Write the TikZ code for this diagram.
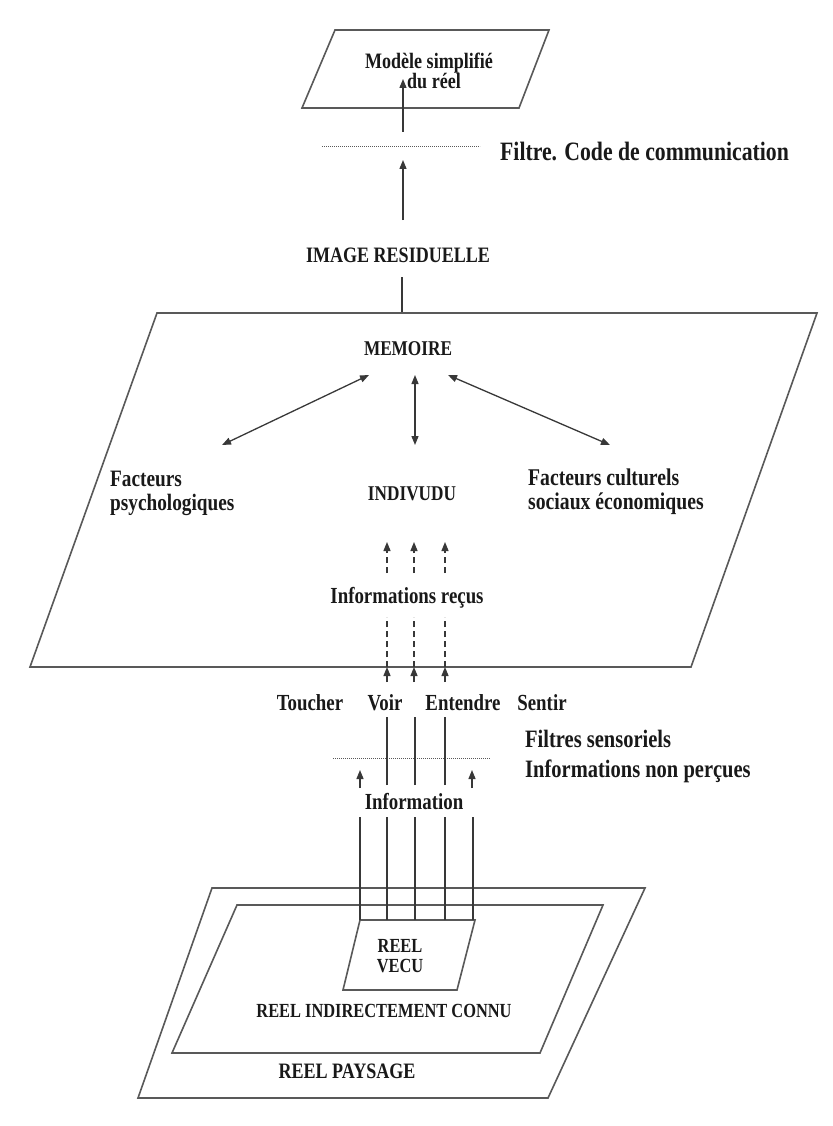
\documentclass[tikz,border=0pt]{standalone}
\usepackage{fontspec}
\setmainfont{Liberation Serif}[FakeStretch=0.82]
\usetikzlibrary{arrows.meta}
\begin{document}
\begin{tikzpicture}[x=1pt,y=-1pt,
  ln/.style={draw=black!78, line width=1.3pt},
  frame/.style={draw=black!65, line width=1.6pt, line join=miter},
  arr/.style={ln, -{Triangle[length=9pt,width=7pt]}},
  darr/.style={ln, {Triangle[length=9pt,width=7pt]}-{Triangle[length=9pt,width=7pt]}},
  dasharr/.style={arr, dash pattern=on 6pt off 4pt},
  dashln/.style={ln, dash pattern=on 6pt off 4pt},
  filt/.style={draw=black!65, line width=1pt, dash pattern=on 1.2pt off 0.8pt},
  lbl/.style={inner sep=0pt, text=black!90, align=center, font=\fontsize{23}{24}\selectfont\bfseries},
  rlbl/.style={lbl, anchor=west, align=left},
]
\fill[white] (0,0) rectangle (832,1126);
\useasboundingbox (0,0) rectangle (832,1126);

% ---------- top: simplified model ----------
\coordinate (m1) at (302,108); \coordinate (m2) at (519,108);
\coordinate (m3) at (549,30);  \coordinate (m4) at (335,30);
\draw[frame] (m1) -- (m2) -- (m3) -- (m4) -- cycle;
\node[lbl, font=\fontsize{22}{20}\selectfont\bfseries] (modele) at (429,71) {Modèle simplifié\\\hspace*{10pt}du réel};
\coordinate (a1s) at (403,132); \coordinate (a1e) at (403,79);
\draw[arr] (a1s) -- (a1e);

% filter 1
\coordinate (f1a) at (322,147); \coordinate (f1b) at (480,147);
\draw[filt] (f1a) -- (f1b);
\node[rlbl, font=\fontsize{26.5}{28}\selectfont\bfseries] (filtre) at (500,151) {Filtre. Code de communication};

\coordinate (a2s) at (403,220); \coordinate (a2e) at (403,160);
\draw[arr] (a2s) -- (a2e);
\node[lbl, font=\fontsize{22}{24}\selectfont\bfseries] (image) at (398,255) {IMAGE RESIDUELLE};
\coordinate (l1s) at (402,277); \coordinate (l1e) at (402,313);
\draw[ln] (l1s) -- (l1e);

% ---------- memory box ----------
\coordinate (b1) at (30,667); \coordinate (b2) at (691,667);
\coordinate (b3) at (817,313); \coordinate (b4) at (157,313);
\draw[frame] (b1) -- (b2) -- (b3) -- (b4) -- cycle;
\node[lbl, font=\fontsize{21}{23}\selectfont\bfseries] (memoire) at (408,349) {MEMOIRE};
\coordinate (dl1) at (369,375); \coordinate (dl2) at (222,445);
\coordinate (dm1) at (415,375); \coordinate (dm2) at (415,445);
\coordinate (dr1) at (448,375); \coordinate (dr2) at (610,445);
\draw[darr] (dl1) -- (dl2);
\draw[darr] (dm1) -- (dm2);
\draw[darr] (dr1) -- (dr2);
\node[rlbl, font=\fontsize{23.5}{24}\selectfont\bfseries] (fpsy) at (110,493) {Facteurs\\psychologiques};
\node[lbl, font=\fontsize{21}{23}\selectfont\bfseries] (indiv) at (412,494) {INDIVUDU};
\node[rlbl, font=\fontsize{24}{24}\selectfont\bfseries] (fcul) at (528,492) {Facteurs culturels\\sociaux économiques};

% received information (dashed channels)
\node[lbl] (recus) at (407,598) {Informations reçus};
\foreach \x/\n in {387/A,414/B,445/C}{
  \coordinate (up\n) at (\x,573); \coordinate (tip\n) at (\x,542);
  \coordinate (lo\n) at (\x,667); \coordinate (lt\n) at (\x,617);
  \coordinate (hb\n) at (\x,682);
  \draw[dasharr] (up\n) -- (tip\n);
  \draw[dashln] (lo\n) -- (lt\n);
  \draw[arr] (hb\n) -- (lo\n);
}

% senses
\node[lbl] (toucher) at (310,703) {Toucher};
\node[lbl] (voir) at (385,703) {Voir};
\node[lbl] (entendre) at (463,703) {Entendre};
\node[lbl] (sentir) at (542,703) {Sentir};

% filter 2
\coordinate (f2a) at (333,758); \coordinate (f2b) at (490,758);
\draw[filt] (f2a) -- (f2b);
\node[rlbl, font=\fontsize{25}{30}\selectfont\bfseries] (fsens) at (525,756) {Filtres sensoriels\\Informations non perçues};

% channels from the lived reality
\node[lbl] (info) at (414,802) {Information};
\foreach \x/\n in {387/A,415/B,445/C}{
  \coordinate (s\n) at (\x,785); \coordinate (e\n) at (\x,717);
  \draw[ln] (s\n) -- (e\n);
}
\foreach \x/\n in {360/L,472/R}{
  \coordinate (hs\n) at (\x,788); \coordinate (he\n) at (\x,770);
  \draw[arr] (hs\n) -- (he\n);
}
\foreach \x/\n in {360/1,387/2,415/3,445/4,473/5}{
  \coordinate (v\n) at (\x,920); \coordinate (w\n) at (\x,817);
}

% ---------- bottom: reality ----------
\coordinate (p1) at (138,1098); \coordinate (p2) at (548,1098);
\coordinate (p3) at (645,888);  \coordinate (p4) at (212,888);
\draw[frame] (p1) -- (p2) -- (p3) -- (p4) -- cycle;
\coordinate (q1) at (172,1053); \coordinate (q2) at (540,1053);
\coordinate (q3) at (603,905);  \coordinate (q4) at (237,905);
\draw[frame] (q1) -- (q2) -- (q3) -- (q4) -- cycle;
\coordinate (r1) at (343,990); \coordinate (r2) at (457,990);
\coordinate (r3) at (475,920); \coordinate (r4) at (360,920);
\draw[frame] (r1) -- (r2) -- (r3) -- (r4) -- cycle;
\foreach \n in {1,...,5}{ \draw[ln] (v\n) -- (w\n); }
\node[lbl, font=\fontsize{20}{20}\selectfont\bfseries] (reelvecu) at (400,956) {REEL\\VECU};
\node[lbl, font=\fontsize{20}{22}\selectfont\bfseries] (indirect) at (384,1011) {REEL INDIRECTEMENT CONNU};
\node[lbl, font=\fontsize{22}{24}\selectfont\bfseries] (paysage) at (347,1071) {REEL PAYSAGE};
\end{tikzpicture}
\end{document}
